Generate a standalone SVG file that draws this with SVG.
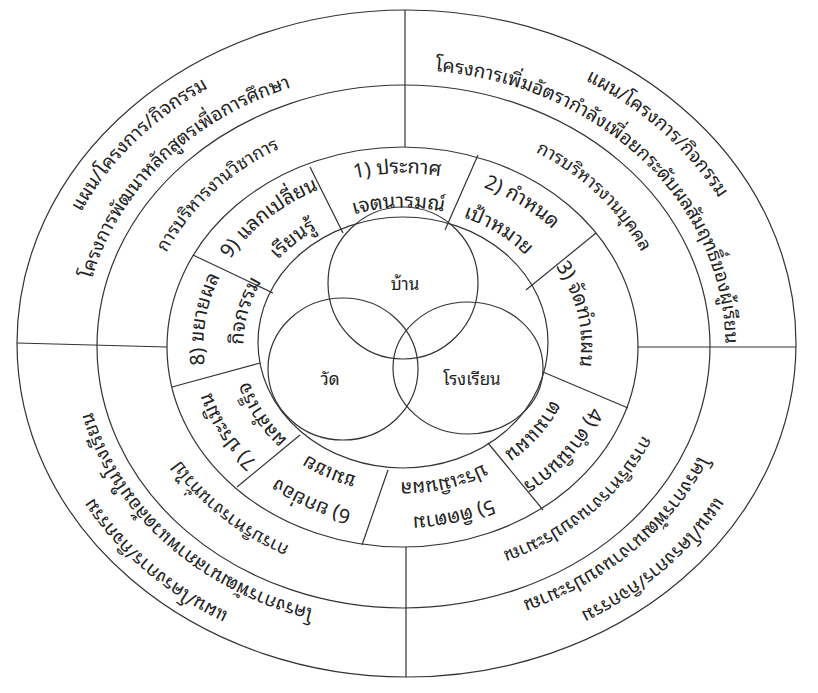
<svg xmlns="http://www.w3.org/2000/svg" width="818" height="693" viewBox="0 0 818 693">
<style>
.ring{fill:none;stroke:#333;stroke-width:1.2}
.div{stroke:#333;stroke-width:1.2;fill:none}
.t{font-family:'Noto Sans Thai Looped','Noto Serif Thai','Noto Sans Thai',Tahoma,'Noto Sans',sans-serif;fill:#222;text-anchor:middle}
.o{font-size:19px}
.m{font-size:18px}
.s{font-size:20px}
.c{font-size:17px}
</style>
<defs>
<path id="pTLo1" d="M50.1,393.0 A358.34,306.82 0 0 1 410.3,38.2"/>
<path id="pTLo2" d="M83.4,364.2 A321.34,275.14 0 0 1 437.6,71.4"/>
<path id="pTLm" d="M143.7,329.4 A260.97,223.45 0 0 1 376.7,122.8"/>
<path id="pTRo1" d="M410.3,38.2 A358.34,306.82 0 0 1 762.3,350.4"/>
<path id="pTRo2" d="M359.3,72.5 A321.34,275.14 0 0 1 718.3,402.2"/>
<path id="pTRm" d="M442.6,124.0 A260.97,223.45 0 0 1 664.9,339.2"/>
<path id="pBRo1" d="M762.3,339.7 A358.34,306.82 0 0 1 410.3,651.8"/>
<path id="pBRo2" d="M723.6,316.2 A321.34,275.14 0 0 1 381.6,619.5"/>
<path id="pBRm" d="M664.1,362.9 A260.97,223.45 0 0 1 428.6,567.5"/>
<path id="pBLo1" d="M416.5,651.6 A358.34,306.82 0 0 1 45.9,355.7"/>
<path id="pBLo2" d="M461.5,615.7 A321.34,275.14 0 0 1 87.3,298.6"/>
<path id="pBLm" d="M393.1,568.3 A260.97,223.45 0 0 1 145.3,374.6"/>
<path id="pS1a" d="M269.8,217.4 A200.59,171.75 0 0 1 527.5,209.7"/>
<path id="pS1b" d="M296.6,242.9 A160.47,137.40 0 0 1 502.8,236.7"/>
<path id="pS2a" d="M393.5,173.5 A200.59,171.75 0 0 1 599.5,306.4"/>
<path id="pS2b" d="M395.6,207.8 A160.47,137.40 0 0 1 560.4,314.1"/>
<path id="pS3" d="M515.5,227.1 A177.22,151.74 0 0 1 559.0,418.6"/>
<path id="pS4a" d="M604.1,333.0 A200.59,171.75 0 0 1 452.5,511.7"/>
<path id="pS4b" d="M564.1,335.4 A160.47,137.40 0 0 1 442.8,478.3"/>
<path id="pS5a" d="M568.3,443.5 A200.59,171.75 0 0 1 319.2,500.7"/>
<path id="pS5b" d="M535.5,423.8 A160.47,137.40 0 0 1 336.2,469.5"/>
<path id="pS6a" d="M444.0,513.3 A200.59,171.75 0 0 1 217.4,408.0"/>
<path id="pS6b" d="M436.0,479.6 A160.47,137.40 0 0 1 254.7,395.4"/>
<path id="pS7a" d="M328.9,504.2 A200.59,171.75 0 0 1 207.8,309.3"/>
<path id="pS7b" d="M343.9,472.4 A160.47,137.40 0 0 1 247.0,316.4"/>
<path id="pS8a" d="M233.9,436.0 A200.59,171.75 0 0 1 269.8,217.4"/>
<path id="pS8b" d="M261.0,407.4 A160.47,137.40 0 0 1 307.4,235.3"/>
<path id="pS9a" d="M204.5,327.1 A200.59,171.75 0 0 1 390.0,173.7"/>
<path id="pS9b" d="M244.4,330.6 A160.47,137.40 0 0 1 392.8,207.9"/>
</defs>
<rect width="818" height="693" fill="#fff"/>

<g id="rings">
<ellipse class="ring" cx="406.5" cy="343.5" rx="389.5" ry="333.5"/>
<ellipse class="ring" cx="403.5" cy="346.5" rx="306.5" ry="261.5"/>
<ellipse class="ring" cx="402.5" cy="347" rx="235.5" ry="200"/>
<ellipse class="ring" cx="403" cy="342.5" rx="145" ry="125.5"/>
</g>

<g id="connectors">
<line class="div" x1="405" y1="10" x2="405" y2="147"/>
<line class="div" x1="406" y1="547" x2="406" y2="677"/>
<line class="div" x1="17" y1="343" x2="167" y2="347"/>
<line class="div" x1="638" y1="347" x2="796" y2="347"/>
<line class="div" x1="310" y1="167" x2="343" y2="233"/>
<line class="div" x1="478" y1="155" x2="445" y2="230"/>
<line class="div" x1="596" y1="233" x2="526" y2="290"/>
<line class="div" x1="543" y1="372" x2="628" y2="408"/>
<line class="div" x1="488" y1="443" x2="543" y2="510"/>
<line class="div" x1="388" y1="470" x2="362" y2="545"/>
<line class="div" x1="300" y1="435" x2="237" y2="487"/>
<line class="div" x1="260" y1="363" x2="172" y2="387"/>
<line class="div" x1="193" y1="255" x2="273" y2="293"/>
</g>

<g id="academic">
<text class="t o"><textPath href="#pTLo1" startOffset="48%">แผน/โครงการ/กิจกรรม</textPath></text>
<text class="t o"><textPath href="#pTLo2" startOffset="44%">โครงการพัฒนาหลักสูตรเพื่อการศึกษา</textPath></text>
<text class="t m"><textPath href="#pTLm" startOffset="47%">การบริหารงานวิชาการ</textPath></text>
</g>
<g id="personnel">
<text class="t o"><textPath href="#pTRo1" startOffset="52%">แผน/โครงการ/กิจกรรม</textPath></text>
<text class="t o"><textPath href="#pTRo2" startOffset="51.5%">โครงการเพิ่มอัตรากำลังเพื่อยกระดับผลสัมฤทธิ์ของผู้เรียน</textPath></text>
<text class="t m"><textPath href="#pTRm" startOffset="51%">การบริหารงานบุคคล</textPath></text>
</g>
<g id="budget">
<text class="t o"><textPath href="#pBRo1" startOffset="49%">แผน/โครงการ/กิจกรรม</textPath></text>
<text class="t o"><textPath href="#pBRo2" startOffset="50%">โครงการพัฒนางานงบประมาณ</textPath></text>
<text class="t m"><textPath href="#pBRm" startOffset="50%">การบริหารงานงบประมาณ</textPath></text>
</g>
<g id="general">
<text class="t o"><textPath href="#pBLo1" startOffset="54%">แผน/โครงการ/กิจกรรม</textPath></text>
<text class="t o"><textPath href="#pBLo2" startOffset="53%">โครงการพัฒนาสภาพแวดล้อมในโรงเรียน</textPath></text>
<text class="t m"><textPath href="#pBLm" startOffset="52%">การบริหารงานทั่วไป</textPath></text>
</g>

<g id="step1">
<text class="t s"><textPath href="#pS1a" startOffset="50%">1) ประกาศ</textPath></text>
<text class="t s"><textPath href="#pS1b" startOffset="50%">เจตนารมณ์</textPath></text>
</g>
<g id="step2">
<text class="t s"><textPath href="#pS2a" startOffset="50%">2) กำหนด</textPath></text>
<text class="t s"><textPath href="#pS2b" startOffset="50%">เป้าหมาย</textPath></text>
</g>
<g id="step3">
<text class="t s"><textPath href="#pS3" startOffset="50%">3) จัดทำแผน</textPath></text>
</g>
<g id="step4">
<text class="t s"><textPath href="#pS4a" startOffset="50%">4) ดำเนินการ</textPath></text>
<text class="t s"><textPath href="#pS4b" startOffset="50%">ตามแผน</textPath></text>
</g>
<g id="step5">
<text class="t s"><textPath href="#pS5a" startOffset="50%">5) ติดตาม</textPath></text>
<text class="t s"><textPath href="#pS5b" startOffset="50%">ประเมินผล</textPath></text>
</g>
<g id="step6">
<text class="t s"><textPath href="#pS6a" startOffset="50%">6) ยกย่อง</textPath></text>
<text class="t s"><textPath href="#pS6b" startOffset="50%">ชมเชย</textPath></text>
</g>
<g id="step7">
<text class="t s"><textPath href="#pS7a" startOffset="50%">7) ประเมิน</textPath></text>
<text class="t s"><textPath href="#pS7b" startOffset="50%">ผลสำเร็จ</textPath></text>
</g>
<g id="step8">
<text class="t s"><textPath href="#pS8a" startOffset="50%">8) ขยายผล</textPath></text>
<text class="t s"><textPath href="#pS8b" startOffset="50%">กิจกรรม</textPath></text>
</g>
<g id="step9">
<text class="t s"><textPath href="#pS9a" startOffset="50%">9) แลกเปลี่ยน</textPath></text>
<text class="t s"><textPath href="#pS9b" startOffset="50%">เรียนรู้</textPath></text>
</g>

<g id="home">
<ellipse class="ring" cx="403" cy="283" rx="75" ry="76"/>
<text class="t c" x="405" y="290">บ้าน</text>
</g>
<g id="temple">
<ellipse class="ring" cx="343" cy="369" rx="75" ry="71"/>
<text class="t c" x="330" y="385">วัด</text>
</g>
<g id="school">
<ellipse class="ring" cx="468" cy="368" rx="75" ry="66"/>
<text class="t c" x="472" y="385">โรงเรียน</text>
</g>
</svg>
